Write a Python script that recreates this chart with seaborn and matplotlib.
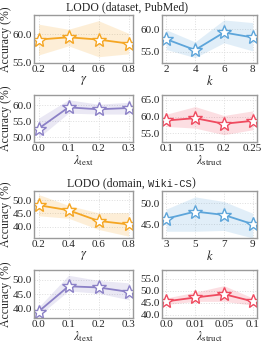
import numpy as np
import pandas as pd
import matplotlib
matplotlib.use("Agg")
import matplotlib.pyplot as plt
import seaborn as sns
from matplotlib.ticker import MultipleLocator, FormatStrFormatter

# ---- data ----
gamma = [0.2, 0.4, 0.6, 0.8]
gamma_labels = ['0.2', '0.4', '0.6', '0.8']
k_pub = [2, 4, 6, 8]
k_wiki = [3, 5, 7, 9]
lam_text = [0.0, 0.1, 0.2, 0.3]
lam_text_labels = ['0.0', '0.1', '0.2', '0.3']
lam_struct_pub = [0.1, 0.15, 0.2, 0.25]
lam_struct_pub_labels = ['0.1', '0.15', '0.2', '0.25']
lam_struct_wiki = ['0.0', '0.01', '0.05', '0.1']

pub_gamma = [59.1, 59.5, 59.1, 58.4]
pub_gamma_lo = [56.4, 58.0, 56.1, 56.6]
pub_gamma_hi = [61.8, 60.9, 62.4, 60.2]

pub_k = [57.8, 55.4, 59.3, 58.2]
pub_k_lo = [55.5, 53.7, 57.0, 55.2]
pub_k_hi = [59.9, 57.2, 62.1, 61.5]

pub_text = [52.7, 59.4, 58.8, 59.2]
pub_text_lo = [49.8, 57.6, 57.3, 57.3]
pub_text_hi = [56.0, 61.8, 60.4, 61.0]

pub_struct = [58.8, 59.5, 57.8, 58.7]
pub_struct_lo = [57.0, 56.5, 54.5, 56.0]
pub_struct_hi = [60.7, 63.0, 60.3, 61.7]

wiki_gamma = [48.1, 46.2, 42.2, 40.9]
wiki_gamma_lo = [44.1, 43.2, 39.0, 36.5]
wiki_gamma_hi = [52.1, 48.0, 45.2, 45.3]

wiki_k = [46.3, 48.0, 47.2, 45.0]
wiki_k_lo = [43.3, 43.3, 43.5, 41.7]
wiki_k_hi = [48.6, 51.5, 50.4, 47.6]

wiki_text = [39.0, 47.7, 47.3, 45.8]
wiki_text_lo = [37.6, 46.1, 45.3, 43.1]
wiki_text_hi = [40.5, 51.5, 49.7, 48.9]

wiki_struct = [45.6, 47.2, 48.6, 45.6]
wiki_struct_lo = [44.3, 45.6, 45.6, 44.0]
wiki_struct_hi = [47.0, 49.4, 52.1, 47.0]

# ---- style ----
sns.set_theme(style="whitegrid")
plt.rcParams['font.family'] = ['Liberation Serif', 'DejaVu Serif']
plt.rcParams['mathtext.fontset'] = 'stix'
plt.rcParams['axes.edgecolor'] = '#9a9a9a'
plt.rcParams['axes.linewidth'] = 1.0
plt.rcParams['grid.color'] = '#dddddd'
plt.rcParams['grid.linestyle'] = ':'
plt.rcParams['grid.linewidth'] = 0.7

orange = '#F5A623'
blue = '#5DA5DA'
purple = '#8B80C6'
red = '#EF4A5F'

fig = plt.figure(figsize=(2.62, 3.49), dpi=100)

W, H = 262.0, 349.0
cols = [(34, 99), (162, 95)]
rows = [(15, 63), (95, 142), (191, 238), (270, 318)]


def make_ax(r, c):
    x0, w = cols[c]
    top, bot = rows[r]
    return fig.add_axes([x0 / W, 1 - bot / H, w / W, (bot - top) / H])


def panel(ax, x, y, lo, hi, color, ylim, xlabel, ticks=None, ticklabels=None, ylabel=False):
    df = pd.DataFrame({'x': x, 'y': y})
    ax.fill_between(x, lo, hi, color=color, alpha=0.18, lw=0)
    sns.lineplot(data=df, x='x', y='y', ax=ax, color=color, lw=1.3, marker='*',
                 markersize=10, markerfacecolor='white', markeredgecolor=color,
                 markeredgewidth=1.0, sort=False)
    ax.set_ylim(*ylim)
    ax.yaxis.set_major_locator(MultipleLocator(5))
    ax.yaxis.set_major_formatter(FormatStrFormatter('%.1f'))
    if ticks is not None:
        ax.set_xticks(ticks)
        ax.set_xticklabels(ticklabels)
    ax.tick_params(axis='both', labelsize=8, pad=1.5, length=0)
    ax.set_xlabel(xlabel, fontsize=9, labelpad=0)
    if ylabel:
        ax.set_ylabel('Accuracy (%)', fontsize=8.5)
        ax.yaxis.set_label_coords(-0.22, 0.5)
    else:
        ax.set_ylabel('')
    ax.grid(True)


panel(make_ax(0, 0), gamma, pub_gamma, pub_gamma_lo, pub_gamma_hi, orange, (55, 63.4),
      r'$\gamma$', gamma, gamma_labels, ylabel=True)
panel(make_ax(0, 1), k_pub, pub_k, pub_k_lo, pub_k_hi, blue, (52.5, 63.2),
      r'$k$', k_pub, [str(v) for v in k_pub])
panel(make_ax(1, 0), lam_text, pub_text, pub_text_lo, pub_text_hi, purple, (48.5, 63.3),
      r'$\lambda_{\mathrm{text}}$', lam_text, lam_text_labels, ylabel=True)
panel(make_ax(1, 1), lam_struct_pub, pub_struct, pub_struct_lo, pub_struct_hi, red, (52.3, 66.5),
      r'$\lambda_{\mathrm{struct}}$', lam_struct_pub, lam_struct_pub_labels)

panel(make_ax(2, 0), gamma, wiki_gamma, wiki_gamma_lo, wiki_gamma_hi, orange, (35.8, 53.4),
      r'$\gamma$', gamma, gamma_labels, ylabel=True)
panel(make_ax(2, 1), k_wiki, wiki_k, wiki_k_lo, wiki_k_hi, blue, (41.7, 52.9),
      r'$k$', k_wiki, [str(v) for v in k_wiki])
panel(make_ax(3, 0), lam_text, wiki_text, wiki_text_lo, wiki_text_hi, purple, (36.8, 53.3),
      r'$\lambda_{\mathrm{text}}$', lam_text, lam_text_labels, ylabel=True)
panel(make_ax(3, 1), lam_struct_wiki, wiki_struct, wiki_struct_lo, wiki_struct_hi, red, (38.7, 58.6),
      r'$\lambda_{\mathrm{struct}}$')

# titles
fig.text(127.5 / W, 1 - 7 / H, 'LODO (dataset, PubMed)', ha='center', va='center', fontsize=8.5)
t1 = fig.text(67 / W, 1 - 183 / H, 'LODO (domain, ', ha='left', va='center', fontsize=8.5)
t2 = plt.annotate('Wiki-CS', xy=(1, 0), xycoords=t1, ha='left', va='bottom', fontsize=7.5,
                  family=['Liberation Mono', 'DejaVu Sans Mono'], annotation_clip=False)
plt.annotate(')', xy=(1, 0), xycoords=t2, ha='left', va='bottom', fontsize=8.5,
             annotation_clip=False)

fig.savefig('out.png', dpi=100)
